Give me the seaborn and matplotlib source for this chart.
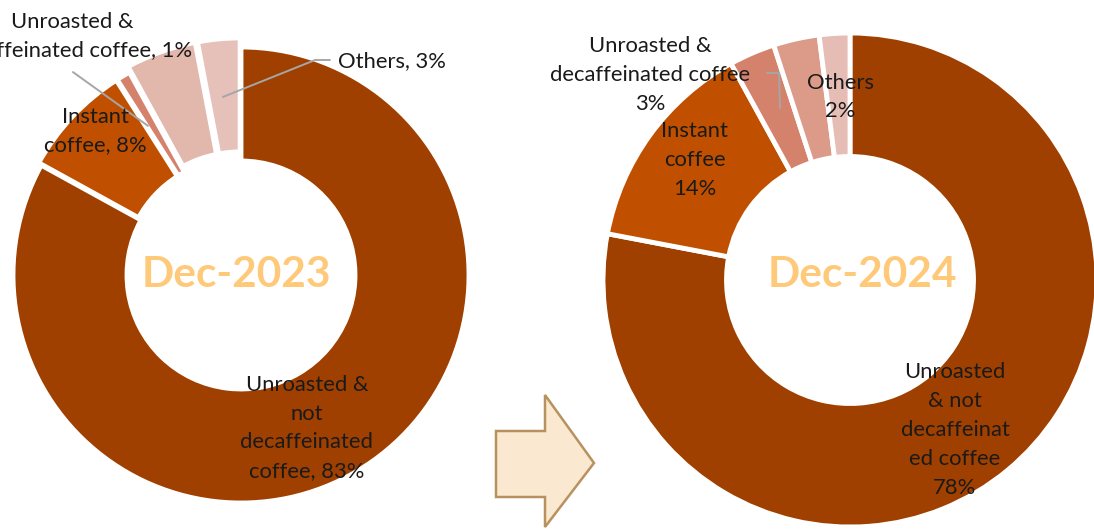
import matplotlib
matplotlib.use("Agg")
import matplotlib.pyplot as plt
from matplotlib.patches import Polygon
import seaborn as sns

sns.set_theme(style="white")
plt.rcParams['font.family'] = ['Lato', 'DejaVu Sans']

# ---- data ----
categories = ["Unroasted & not decaffeinated coffee", "Instant coffee",
              "Unroasted & decaffeinated coffee", "Roasted coffee", "Others"]
values_2023 = [83, 8, 1, 5, 3]
values_2024 = [78, 14, 3, 3, 2]
titles = ["Dec-2023", "Dec-2024"]
labels_2023 = ["Unroasted &\nnot\ndecaffeinated\ncoffee, 83%", "Instant\ncoffee, 8%",
               "Unroasted &\ndecaffeinated coffee, 1%", "", "Others, 3%"]
labels_2024 = ["Unroasted\n& not\ndecaffeinat\ned coffee\n78%", "Instant\ncoffee\n14%",
               "Unroasted &\ndecaffeinated coffee\n3%", "", "Others\n2%"]

colors_2023 = ["#A04000", "#C05000", "#D4826C", "#E2B7AC", "#E6C1B9"]
colors_2024 = ["#A04000", "#C05000", "#D4826C", "#DC9A88", "#E6BDB5"]

fig = plt.figure(figsize=(10.94, 5.31), dpi=100)
W, H = 1094, 531


def make_ax(cx, cy, r):
    return fig.add_axes([(cx - r) / W, (H - cy - r) / H, 2 * r / W, 2 * r / H])


def donut(ax, vals, cols, explode):
    wedges, _ = ax.pie(vals, colors=cols, startangle=90, counterclock=False,
                       explode=explode, radius=1,
                       wedgeprops=dict(width=0.5, edgecolor="white", linewidth=3.5))
    for w in wedges:
        w.set_clip_on(False)
    ax.set_xlim(-1, 1)
    ax.set_ylim(-1, 1)
    ax.set_aspect("equal")
    ax.axis("off")
    return wedges


txt_kw = dict(fontsize=15.8, color="#1A1A1A", ha="center", va="center",
              linespacing=1.55, clip_on=False)
center_kw = dict(fontsize=30.5, fontweight="bold", color="#FFC97A",
                 ha="center", va="center")
lead_kw = dict(color="#A6A6A6", lw=1.4, clip_on=False)

# ---- left donut ----
ax1 = make_ax(241, 275, 228)
donut(ax1, values_2023, colors_2023, [0, 0.015, 0.015, 0.04, 0.04])
ax1.text(-0.02, 0.0, titles[0], **center_kw)
ax1.text(0.289, -0.671, labels_2023[0], **txt_kw)
ax1.text(-0.640, 0.632, labels_2023[1], **txt_kw)
ax1.text(-0.741, 1.048, labels_2023[2], **txt_kw)
ax1.text(0.425, 0.939, labels_2023[4], **{**txt_kw, "ha": "left"})
ax1.plot([-0.737, -0.408], [0.890, 0.654], **lead_kw)
ax1.plot([0.390, 0.325, -0.079], [0.943, 0.943, 0.781], **lead_kw)

# ---- right donut ----
ax2 = make_ax(850, 280, 247)
donut(ax2, values_2024, colors_2024, [0, 0, 0, 0, 0])
ax2.text(0.049, 0.02, titles[1], **center_kw)
ax2.text(0.425, -0.607, labels_2024[0], **txt_kw)
ax2.text(-0.628, 0.486, labels_2024[1], **txt_kw)
ax2.text(-0.810, 0.830, labels_2024[2], **txt_kw)
ax2.text(-0.040, 0.741, labels_2024[4], **txt_kw)
ax2.plot([-0.336, -0.287, -0.283], [0.838, 0.838, 0.696], **lead_kw)

# ---- arrow between the years ----
arrow_px = [(496, 431), (545, 431), (545, 395), (594, 463),
            (545, 527), (545, 497), (496, 497)]
arrow = Polygon([(x / W, 1 - y / H) for x, y in arrow_px], closed=True,
                facecolor="#FBE8D0", edgecolor="#B8925E", linewidth=1.8,
                transform=fig.transFigure)
fig.patches.append(arrow)

fig.savefig("out.png", dpi=100, facecolor="white")
